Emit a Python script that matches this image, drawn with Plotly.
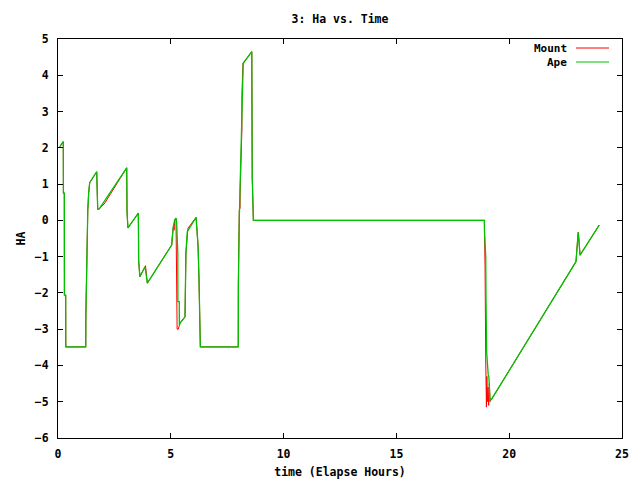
import plotly.graph_objects as go

# ---- data (hours, HA) ----
ape_t = [0.08, 0.235, 0.24, 0.28, 0.285, 0.34, 0.345, 1.23, 1.235, 1.27, 1.32, 1.36, 1.405,
         1.715, 1.73, 1.76, 1.82, 3.045, 3.06, 3.10, 3.56, 3.57, 3.575, 3.63, 3.86, 3.96,
         5.04, 5.11, 5.17, 5.23, 5.26, 5.31, 5.315, 5.375, 5.38, 5.41, 5.63, 5.635, 5.67, 5.73,
         6.12, 6.15, 6.21, 6.25, 6.29, 6.31, 7.99, 7.995, 8.04, 8.07, 8.11, 8.14, 8.18, 8.21,
         8.59, 8.595, 8.61, 8.66, 18.90, 18.905, 18.96, 18.97, 19.00, 19.07, 19.10, 19.15,
         19.19, 19.22, 22.96, 22.99, 23.06, 23.09, 23.14, 23.99]
ape_ha = [2.03, 2.17, 0.75, 0.75, -2.06, -2.06, -3.49, -3.49, -2.63, -0.87, 0.27, 0.76, 1.04,
          1.34, 0.84, 0.31, 0.31, 1.45, 0.23, -0.21, 0.20, -0.24, -1.11, -1.55, -1.28, -1.73,
          -0.68, -0.18, 0.01, 0.06, -0.07, -0.90, -2.24, -2.24, -2.89, -2.83, -2.66, -2.06, -0.90, -0.31,
          0.08, -0.17, -0.73, -1.64, -2.89, -3.49, -3.49, -1.75, 0.15, 0.84, 1.39, 2.49, 3.51, 4.33,
          4.65, 3.50, 1.20, 0.0, 0.0, -0.31, -1.00, -2.06, -3.62, -4.26, -4.32, -4.95,
          -4.95, -4.93, -1.14, -0.90, -0.33, -0.54, -0.96, -0.13]

mount_t = [0.08, 0.235, 0.24, 0.28, 0.285, 0.34, 0.345, 1.23, 1.235, 1.27, 1.32, 1.36, 1.405,
           1.715, 1.73, 1.76, 1.82, 2.08, 3.045, 3.06, 3.10, 3.56, 3.57, 3.575, 3.63, 3.88, 3.96,
           5.04, 5.06, 5.11, 5.15, 5.17, 5.23, 5.25, 5.28, 5.33, 5.41, 5.63, 5.635, 5.67, 5.76,
           6.12, 6.15, 6.21, 6.25, 6.29, 6.31, 7.99, 7.995, 8.035, 8.07, 8.075, 8.11, 8.115,
           8.15, 8.155, 8.20, 8.59, 8.595, 8.61, 8.66, 18.90, 18.905, 18.93, 18.96, 18.99,
           19.01, 19.03, 19.06, 19.09, 19.12, 19.15, 19.19, 19.22, 22.96, 22.99, 23.06, 23.09,
           23.14, 23.99]
mount_ha = [2.03, 2.17, 0.75, 0.75, -2.06, -2.06, -3.49, -3.49, -2.63, -0.87, 0.27, 0.76, 1.04,
            1.34, 0.84, 0.31, 0.31, 0.48, 1.45, 0.23, -0.21, 0.20, -0.24, -1.11, -1.55, -1.25, -1.73,
            -0.68, -0.50, -0.18, -0.27, 0.01, 0.06, -1.2, -3.0, -3.0, -2.83, -2.66, -2.06, -0.90, -0.22,
            0.08, -0.17, -0.73, -1.64, -2.89, -3.49, -3.49, -1.75, 0.28, 0.34, 0.84, 1.39, 1.88,
            2.49, 3.51, 4.33, 4.65, 3.50, 1.20, 0.0, 0.0, -0.32, -1.28, -3.85, -5.15,
            -4.3, -5.0, -4.6, -5.1, -4.5, -5.0, -4.95, -4.93, -1.14, -0.90, -0.33, -0.54,
            -0.96, -0.13]

x_ticks = [0, 5, 10, 15, 20, 25]
y_ticks = [-6, -5, -4, -3, -2, -1, 0, 1, 2, 3, 4, 5]

FONT = dict(family="DejaVu Sans Mono", size=11.5, color="black", weight="bold")
KEY_FONT = dict(family="DejaVu Sans Mono", size=11, color="black", weight="bold")

fig = go.Figure()
fig.add_trace(go.Scatter(x=mount_t, y=mount_ha, mode="lines", name="Mount",
                         line=dict(color="#ff0000", width=1), showlegend=False))
fig.add_trace(go.Scatter(x=ape_t, y=ape_ha, mode="lines", name="Ape",
                         line=dict(color="#00c000", width=1.3), showlegend=False))

# plot area in pixels: x 58..622, y 39..438
L, R, T, B = 58, 622, 39, 438
W, H = R - L, B - T
def px(xp):
    return (xp - L) / W
def py(yp):
    return (B - yp) / H

# gnuplot-style key (text left of line sample)
for name, color, ypix in [("Mount", "#ff0000", 48), ("Ape", "#00c000", 62)]:
    fig.add_annotation(x=px(568), y=py(ypix), xref="paper", yref="paper",
                       text=name, showarrow=False, xanchor="right", yanchor="middle",
                       font=KEY_FONT, borderpad=0)
    fig.add_shape(type="line", xref="paper", yref="paper",
                  x0=px(576), x1=px(609), y0=py(ypix), y1=py(ypix),
                  line=dict(color=color, width=1))

fig.update_layout(
    width=640, height=480,
    margin=dict(l=L, r=640 - R, t=T, b=480 - B, autoexpand=False),
    paper_bgcolor="white", plot_bgcolor="white",
    font=FONT,
    title=dict(text="3: Ha vs. Time", x=px(340), xref="paper", xanchor="center",
               y=1 - 19 / 480, yref="container", yanchor="middle", font=FONT),
    showlegend=False,
)
fig.update_xaxes(range=[0, 25], tickvals=x_ticks, ticks="inside", ticklen=5,
                 showline=True, mirror="ticks", linecolor="black", linewidth=1,
                 tickcolor="black", showgrid=False, zeroline=False, automargin=False,
                 ticklabelstandoff=5,
                 title=dict(text="time (Elapse Hours)", font=FONT, standoff=8))
fig.update_yaxes(range=[-6, 5], tickvals=y_ticks, ticks="inside", ticklen=5,
                 showline=True, mirror="ticks", linecolor="black", linewidth=1,
                 tickcolor="black", showgrid=False, zeroline=False, automargin=False,
                 ticklabelstandoff=6,
                 title=dict(text="HA", font=FONT, standoff=6))

fig.write_html("out.html")
